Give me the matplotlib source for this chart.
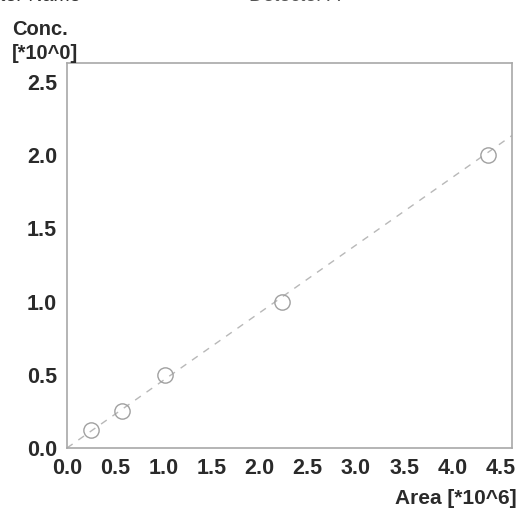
import matplotlib
matplotlib.use("Agg")
import matplotlib.pyplot as plt
import numpy as np

# Data (Area in 1e6 units, Concentration)
area = [0.25, 0.57, 1.02, 2.23, 4.37]
conc = [0.125, 0.25, 0.5, 1.0, 2.0]
fit_slope = 0.462
fit_intercept = 0.0
xticks = [0.0, 0.5, 1.0, 1.5, 2.0, 2.5, 3.0, 3.5, 4.0, 4.5]
yticks = [0.0, 0.5, 1.0, 1.5, 2.0, 2.5]
x_max = 4.62
y_max = 2.63

plt.rcParams['font.family'] = ['Liberation Sans', 'DejaVu Sans']

fig = plt.figure(figsize=(5.19, 5.12), dpi=100)
ax = fig.add_axes([0.129, 0.125, 0.8575, 0.752])

xs = np.array([0.0, x_max])
ax.plot(xs, fit_slope * xs + fit_intercept, linestyle=(0, (5, 5)), color='#b8b8b8', lw=1.0, zorder=2)
ax.plot(area, conc, linestyle='none', marker='o', markersize=11, markerfacecolor='none',
        markeredgecolor='#a0a0a0', markeredgewidth=1.0, zorder=3)

ax.set_xlim(0, x_max)
ax.set_ylim(0, y_max)
ax.set_xticks(xticks)
ax.set_yticks(yticks)
ax.set_xticklabels([f"{v:.1f}" for v in xticks], fontweight='bold')
ax.set_yticklabels([f"{v:.1f}" for v in yticks], fontweight='bold')
ax.tick_params(axis='both', length=0, labelsize=15.5, colors='#2a2a2a', pad=7)
ax.tick_params(axis='x', pad=7)

for s in ax.spines.values():
    s.set_color('#a8a8a8')
    s.set_linewidth(1.2)

fig.text(0.023, 0.877, "Conc.\n[*10^0]", fontsize=14.5, fontweight='bold', color='#2a2a2a',
         ha='left', va='bottom', linespacing=1.3)
fig.text(0.995, 0.008, "Area [*10^6]", fontsize=15, fontweight='bold', color='#2a2a2a',
         ha='right', va='bottom')

# header lines cut off at top of the scan
fig.text(0.0, 0.99, "ter Name", fontsize=14, color='#333333', ha='left', va='bottom')
fig.text(0.48, 0.99, "Detector A", fontsize=14, color='#555555', ha='left', va='bottom')

fig.savefig("out.png", dpi=100)
